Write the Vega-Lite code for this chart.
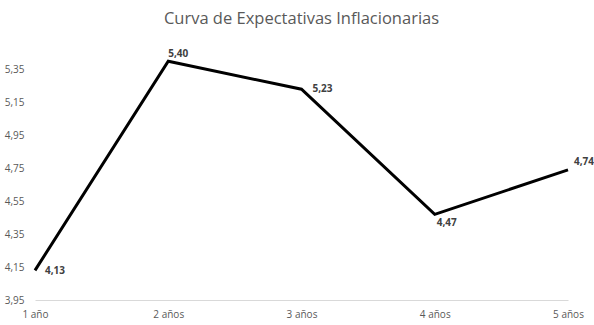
{
  "$schema": "https://vega.github.io/schema/vega-lite/v6.json",
  "width": 533,
  "height": 247,
  "autosize": {"type": "none"},
  "padding": {"left": 35, "top": 53, "right": 26, "bottom": 25},
  "background": "white",
  "config": {
    "view": {"stroke": null},
    "font": "Open Sans",
    "locale": {"number": {"decimal": ",", "thousands": ".", "grouping": [3], "currency": ["", " €"]}}
  },
  "title": {
    "text": "Curva de Expectativas Inflacionarias",
    "fontSize": 16.5,
    "fontWeight": "normal",
    "color": "#595959",
    "font": "Open Sans",
    "offset": 22,
    "anchor": "middle"
  },
  "data": {
    "values": [
      {"plazo": "1 año", "valor": 4.13},
      {"plazo": "2 años", "valor": 5.40},
      {"plazo": "3 años", "valor": 5.23},
      {"plazo": "4 años", "valor": 4.47},
      {"plazo": "5 años", "valor": 4.74}
    ]
  },
  "encoding": {
    "x": {
      "field": "plazo",
      "type": "ordinal",
      "sort": null,
      "scale": {"type": "point", "padding": 0},
      "axis": {
        "title": null,
        "labelAngle": 0,
        "ticks": false,
        "domainColor": "#d9d9d9",
        "domainWidth": 1,
        "labelColor": "#595959",
        "labelFontSize": 10,
        "labelPadding": 9,
        "grid": false
      }
    },
    "y": {
      "field": "valor",
      "type": "quantitative",
      "scale": {"domain": [3.95, 5.45], "nice": false, "zero": false},
      "axis": {
        "title": null,
        "values": [3.95, 4.15, 4.35, 4.55, 4.75, 4.95, 5.15, 5.35],
        "format": ".2f",
        "ticks": false,
        "domain": false,
        "grid": false,
        "labelColor": "#595959",
        "labelFontSize": 10,
        "labelPadding": 11
      }
    }
  },
  "layer": [
    {"mark": {"type": "line", "color": "black", "strokeWidth": 3, "strokeJoin": "miter"}},
    {
      "transform": [{"filter": "datum.plazo == '1 año'"}],
      "mark": {"type": "text", "align": "left", "baseline": "middle", "dx": 10, "dy": 1, "fontWeight": "bold", "fontSize": 10, "color": "#404040"},
      "encoding": {"text": {"field": "valor", "type": "quantitative", "format": ".2f"}}
    },
    {
      "transform": [{"filter": "datum.plazo == '3 años'"}],
      "mark": {"type": "text", "align": "left", "baseline": "middle", "dx": 11, "dy": 0, "fontWeight": "bold", "fontSize": 10, "color": "#404040"},
      "encoding": {"text": {"field": "valor", "type": "quantitative", "format": ".2f"}}
    },
    {
      "transform": [{"filter": "datum.plazo == '2 años'"}],
      "mark": {"type": "text", "align": "left", "baseline": "middle", "dx": 0, "dy": -7, "fontWeight": "bold", "fontSize": 10, "color": "#404040"},
      "encoding": {"text": {"field": "valor", "type": "quantitative", "format": ".2f"}}
    },
    {
      "transform": [{"filter": "datum.plazo == '5 años'"}],
      "mark": {"type": "text", "align": "left", "baseline": "middle", "dx": 6, "dy": -8, "fontWeight": "bold", "fontSize": 10, "color": "#404040"},
      "encoding": {"text": {"field": "valor", "type": "quantitative", "format": ".2f"}}
    },
    {
      "transform": [{"filter": "datum.plazo == '4 años'"}],
      "mark": {"type": "text", "align": "left", "baseline": "middle", "dx": 2, "dy": 9, "fontWeight": "bold", "fontSize": 10, "color": "#404040"},
      "encoding": {"text": {"field": "valor", "type": "quantitative", "format": ".2f"}}
    }
  ]
}
